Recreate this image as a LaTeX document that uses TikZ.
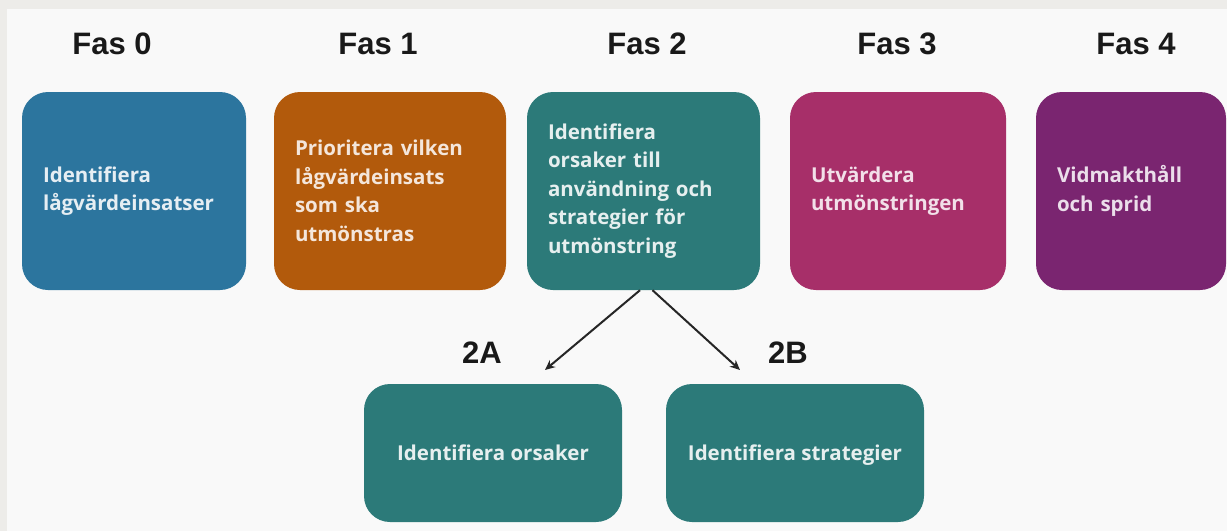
\documentclass[tikz,border=0pt]{standalone}
\usepackage{fontspec}
\setmainfont{Open Sans}
\newfontfamily\titlefont{Liberation Sans}
\newfontfamily\boxfont{Open Sans}
\usetikzlibrary{arrows.meta}
\definecolor{outerbg}{HTML}{EDECE9}
\definecolor{innerbg}{HTML}{F9F9F9}
\definecolor{cblue}{HTML}{2C759E}
\definecolor{corange}{HTML}{B25A0C}
\definecolor{cteal}{HTML}{2C7A79}
\definecolor{cmagenta}{HTML}{A72F69}
\definecolor{cpurple}{HTML}{7A2570}
\tikzset{
  phase/.style={rounded corners=26pt, minimum height=198pt, inner xsep=21pt,
    inner ysep=0pt, align=left, font=\boxfont\bfseries\fontsize{20.5}{28.5}\selectfont},
  subbox/.style={rounded corners=26pt, minimum height=138pt, minimum width=258pt,
    align=center, fill=cteal, text=white!88!cteal,
    font=\boxfont\bfseries\fontsize{20.5}{28.5}\selectfont},
  title/.style={anchor=base, font=\titlefont\bfseries\fontsize{31}{36}\selectfont, text=black!90},
  arr/.style={line width=2pt, draw=black!85, -{Stealth[length=10pt,width=9pt]}}
}
\begin{document}
\begin{tikzpicture}[x=1pt,y=-1pt]
\useasboundingbox (0,0) rectangle (1227,531);
\fill[outerbg] (0,0) rectangle (1227,531);
\fill[innerbg] (7,9) rectangle (1227,531);

\node[title] (t0) at (112,54) {Fas 0};
\node[title] (t1) at (378,54) {Fas 1};
\node[title] (t2) at (647,54) {Fas 2};
\node[title] (t3) at (897,54) {Fas 3};
\node[title] (t4) at (1136,54) {Fas 4};

\node[phase, fill=cblue, text=white!88!cblue, text width=182pt] (b0) at (134,191)
  {Identifiera\\lågvärdeinsatser};
\node[phase, fill=corange, text=white!85!corange, text width=190pt] (b1) at (390,191)
  {Prioritera vilken\\lågvärdeinsats\\som ska\\utmönstras};
\node[phase, fill=cteal, text=white!88!cteal, text width=191pt] (b2) at (643.5,191)
  {Identifiera\\orsaker till\\användning och\\strategier för\\utmönstring};
\node[phase, fill=cmagenta, text=white!85!cmagenta, text width=174pt] (b3) at (898,191)
  {Utvärdera\\utmönstringen};
\node[phase, fill=cpurple, text=white!85!cpurple, text width=148pt] (b4) at (1131,191)
  {Vidmakthåll\\och sprid};

\node[subbox, text depth=-2pt] (s1) at (493,453) {Identifiera orsaker};
\node[subbox, text depth=-2pt] (s2) at (795,453) {Identifiera strategier};

\node[title] (l1) at (482,363) {2A};
\node[title] (l2) at (788,363) {2B};

\coordinate (aA) at (545,370);
\coordinate (aB) at (740,370);
\draw[arr] ([xshift=-3.5pt]b2.south) -- (aA);
\draw[arr] ([xshift=9pt]b2.south) -- (aB);
\end{tikzpicture}
\end{document}
